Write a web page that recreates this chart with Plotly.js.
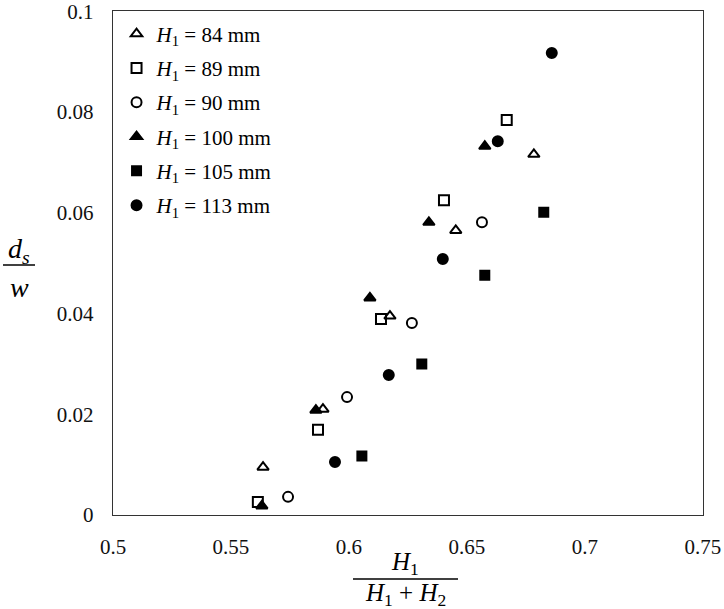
<!DOCTYPE html>
<html>
<head>
<meta charset="utf-8">
<script src="https://cdn.plot.ly/plotly-3.0.1.min.js"></script>
<style>html,body{margin:0;padding:0;background:#fff;}#chart{width:724px;height:609px;}</style>
</head>
<body>
<div id="chart"></div>
<script>
// Series: x = H1/(H1+H2), y = ds/w
var seriesNames = ["<i>H</i><sub>1</sub> = 84 mm", "<i>H</i><sub>1</sub> = 89 mm", "<i>H</i><sub>1</sub> = 90 mm",
                   "<i>H</i><sub>1</sub> = 100 mm", "<i>H</i><sub>1</sub> = 105 mm", "<i>H</i><sub>1</sub> = 113 mm"];

var x84 = [0.5636, 0.5890, 0.6174, 0.6453, 0.6784];
var y84 = [0.0095, 0.0210, 0.0395, 0.0565, 0.0716];

var x89 = [0.5614, 0.5869, 0.6136, 0.6403, 0.6669];
var y89 = [0.0026, 0.0169, 0.0389, 0.0625, 0.0784];

var x90 = [0.5742, 0.5992, 0.6267, 0.6564];
var y90 = [0.0036, 0.0234, 0.0381, 0.0581];

var x100 = [0.5631, 0.5860, 0.6089, 0.6339, 0.6576];
var y100 = [0.0018, 0.0208, 0.0431, 0.0581, 0.0732];

var x105 = [0.6055, 0.6309, 0.6576, 0.6826];
var y105 = [0.0117, 0.0300, 0.0476, 0.0601];

var x113 = [0.5941, 0.6169, 0.6398, 0.6631, 0.6860];
var y113 = [0.0105, 0.0278, 0.0508, 0.0742, 0.0917];

var xTickVals = [0.5, 0.55, 0.6, 0.65, 0.7, 0.75];
var xTickText = ["0.5", "0.55", "0.6", "0.65", "0.7", "0.75"];
var yTickVals = [0, 0.02, 0.04, 0.06, 0.08, 0.1];
var yTickText = ["0", "0.02", "0.04", "0.06", "0.08", "0.1"];

var xs = [x84, x89, x90, x100, x105, x113];
var ys = [y84, y89, y90, y100, y105, y113];
var symbols = ["triangle-up-open", "square-open", "circle-open", "triangle-up", "square", "circle"];
var sizes = [10, 10, 10, 10, 9, 10];

var traces = [];
for (var i = 0; i < xs.length; i++) {
  traces.push({
    type: "scatter", mode: "markers",
    x: xs[i], y: ys[i], name: seriesNames[i],
    legendgroup: "g" + i,
    marker: {symbol: symbols[i], size: sizes[i], color: "#000", line: {color: "#000", width: 2}},
    cliponaxis: false
  });
}

var serif = "Liberation Serif";

var layout = {
  width: 724, height: 609,
  margin: {l: 113, r: 21, t: 11, b: 94},
  paper_bgcolor: "#fff", plot_bgcolor: "#fff",
  font: {family: serif, color: "#000"},
  showlegend: true,
  legend: {
    x: 0.006, y: 0.995, xanchor: "left", yanchor: "top",
    font: {family: serif, size: 21, color: "#000"},
    tracegroupgap: 4, bgcolor: "rgba(0,0,0,0)",
    itemwidth: 30
  },
  xaxis: {
    range: [0.5, 0.7501], tickvals: xTickVals, ticktext: xTickText, showgrid: false, zeroline: false,
    showline: true, mirror: true, linecolor: "#333", linewidth: 1.3, ticks: "",
    tickfont: {family: serif, size: 21, color: "#111"}, ticklabelstandoff: 12,
    ticklabeloverflow: "allow"
  },
  yaxis: {
    range: [0, 0.10005], tickvals: yTickVals, ticktext: yTickText, showgrid: false, zeroline: false,
    showline: true, mirror: true, linecolor: "#333", linewidth: 1.3, ticks: "",
    tickfont: {family: serif, size: 21, color: "#111"}, ticklabelstandoff: 14,
    ticklabeloverflow: "allow"
  },
  annotations: [
    {xref: "paper", yref: "paper", x: (19 - 113) / 590, y: (515 - 250) / 504, text: "<i>d<sub>s</sub></i>",
     showarrow: false, font: {family: serif, size: 28, color: "#000"}, xanchor: "center", yanchor: "middle"},
    {xref: "paper", yref: "paper", x: (19 - 113) / 590, y: (515 - 287) / 504, text: "<i>w</i>",
     showarrow: false, font: {family: serif, size: 28, color: "#000"}, xanchor: "center", yanchor: "middle"},
    {xref: "paper", yref: "paper", x: (405 - 113) / 590, y: (515 - 563) / 504, text: "<i>H</i><sub>1</sub>",
     showarrow: false, font: {family: serif, size: 25, color: "#000"}, xanchor: "center", yanchor: "middle"},
    {xref: "paper", yref: "paper", x: (405 - 113) / 590, y: (515 - 595) / 504, text: "<i>H</i><sub>1</sub> + <i>H</i><sub>2</sub>",
     showarrow: false, font: {family: serif, size: 25, color: "#000"}, xanchor: "center", yanchor: "middle"}
  ],
  shapes: [
    {type: "line", xref: "paper", yref: "paper", x0: (3 - 113) / 590, x1: (35 - 113) / 590,
     y0: (515 - 265) / 504, y1: (515 - 265) / 504, line: {color: "#000", width: 1.5}},
    {type: "line", xref: "paper", yref: "paper", x0: (353 - 113) / 590, x1: (458 - 113) / 590,
     y0: (515 - 579) / 504, y1: (515 - 579) / 504, line: {color: "#000", width: 1.5}}
  ]
};

Plotly.newPlot("chart", traces, layout, {displayModeBar: false, staticPlot: true});
</script>
</body>
</html>
